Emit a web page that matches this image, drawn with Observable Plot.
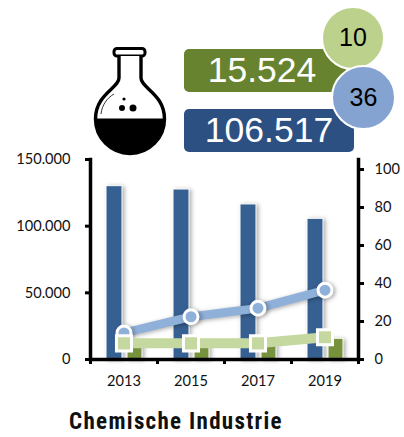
<!DOCTYPE html>
<html><head><meta charset="utf-8">
<script src="https://cdn.jsdelivr.net/npm/d3@7"></script>
<script src="https://cdn.jsdelivr.net/npm/@observablehq/plot@0.6"></script>
<style>
html,body{margin:0;padding:0;background:#fff;width:404px;height:437px;overflow:hidden}
#wrap{position:relative;width:404px;height:437px;font-family:"Liberation Sans",Arial,sans-serif}
#chart{position:absolute;left:0;top:148px}
.box{position:absolute;border-radius:5px;color:#fff;font-size:35.5px;text-align:center;box-sizing:border-box}
#boxG{left:184px;top:49px;width:162px;height:43px;line-height:43px;background:#67832f;padding-right:6px}
#boxB{left:184px;top:109px;width:170px;height:43px;line-height:43px;background:#2d5082}
.circ{position:absolute;border-radius:50%;border:2.5px solid #fff;box-sizing:border-box;color:#000;font-size:25px;text-align:center}
#cG{left:321px;top:6px;width:64px;height:64px;line-height:59px;background:#bcd28c}
#cB{left:331px;top:65px;width:65px;height:65px;line-height:60px;background:#84a3d0}
#flask{position:absolute;left:90px;top:44px}
#title{position:absolute;left:0;top:408px;width:352px;text-align:center;font:bold 23px "Liberation Sans Narrow","Roboto Condensed",Roboto,sans-serif;letter-spacing:1.3px;color:#111}
.shadow{filter:drop-shadow(2px 1px 2px rgba(0,0,0,.32))}
</style></head><body>
<div id="wrap">
  <svg id="flask" width="80" height="114" viewBox="0 0 80 114">
    <rect x="24" y="4.5" width="31" height="7.5" rx="3" fill="#fff" stroke="#000" stroke-width="3"/>
    <path d="M29 12V34C29 44 5.5 50 5.5 75A34.5 34.5 0 0 0 74.5 75C74.5 50 51 44 51 34V12" fill="#fff" stroke="#000" stroke-width="3.4"/>
    <path d="M5 74.5A35 35 0 0 0 75 74.5Z" fill="#000"/>
    <circle cx="32" cy="64" r="3"/><circle cx="43" cy="64" r="3.5"/><circle cx="34" cy="55" r="1.6"/>
    <path d="M11 70C12 61 17 54 24 50" fill="none" stroke="#000" stroke-width=".8"/>
  </svg>
  <div class="box" id="boxG"></div>
  <div class="box" id="boxB"></div>
  <div class="circ" id="cG"></div>
  <div class="circ" id="cB"></div>
  <div id="chart"></div>
  <div id="title"></div>
</div>
<script>
const years = ["2013","2015","2017","2019"];
const blueBars = [130000,127500,116300,105500];
const greenBars = [13000,13000,13000,15524];
const blueLine = [14,22.5,27,36.5];
const greenLine = [8.5,8.5,8.5,11.7];
const leftTicks = [0,50000,100000,150000];
const rightTicks = [0,20,40,60,80,100];
const greenTotal = "15.524", blueTotal = "106.517", greenCount = "10", blueCount = "36";
const titleText = "Chemische Industrie";

document.getElementById("boxG").textContent = greenTotal;
document.getElementById("boxB").textContent = blueTotal;
document.getElementById("cG").textContent = greenCount;
document.getElementById("cB").textContent = blueCount;
document.getElementById("title").textContent = titleText;

const toLeft = v => v * 1425; // right axis unit expressed on the left axis scale
const fmt = v => d3.format(",")(v).replace(/,/g, ".");
const rows = years.map((year,i)=>({year,blue:blueBars[i],green:greenBars[i],bl:toLeft(blueLine[i]),gl:toLeft(greenLine[i])}));

const plot = Plot.plot({
  width:404, height:241, marginTop:11, marginBottom:30, marginLeft:90, marginRight:46,
  style:{fontFamily:"Lato,sans-serif",fontSize:"14.6px",color:"#111",background:"transparent",overflow:"visible"},
  x:{type:"band",domain:years,padding:0},
  y:{domain:[0,150000]},
  marks:[
    Plot.barY(rows,{x:"year",y:"blue",fill:"#376092",stroke:"#fff",strokeWidth:1,insetLeft:16,insetRight:35,className:"shadow"}),
    Plot.barY(rows,{x:"year",y:"green",fill:"#76923c",stroke:"#fff",strokeWidth:1,insetLeft:37,insetRight:15,className:"shadow"}),
    Plot.axisY({ticks:leftTicks,tickFormat:fmt,tickSize:5,tickPadding:15,strokeWidth:3,stroke:"#000",label:null,anchor:"left"}),
    Plot.axisY({ticks:rightTicks.map(toLeft),tickFormat:v=>String(Math.round(v/1425)),tickSize:5,tickPadding:11,strokeWidth:3,stroke:"#000",label:null,anchor:"right"}),
    Plot.axisX({tickSize:0,tickPadding:16,label:null}),
    Plot.ruleX(years,{x:d=>d,dx:-33.5,y1:0,y2:0,insetBottom:-5,stroke:"#000",strokeWidth:3}),
    Plot.ruleX(years.slice(-1),{x:d=>d,dx:33.5,y1:0,y2:0,insetBottom:-5,stroke:"#000",strokeWidth:3}),
    Plot.frame({anchor:"left",stroke:"#000",strokeWidth:3.5}),
    Plot.frame({anchor:"right",stroke:"#000",strokeWidth:3.5}),
    Plot.frame({anchor:"bottom",stroke:"#000",strokeWidth:3.5}),
    Plot.line(rows,{x:"year",y:"bl",stroke:"#8fb0d8",strokeWidth:8.5,className:"shadow"}),
    Plot.dot(rows,{x:"year",y:"bl",r:7,fill:"#8fb0d8",stroke:"#fff",strokeWidth:3,className:"shadow"}),
    Plot.line(rows,{x:"year",y:"gl",stroke:"#c5d8a0",strokeWidth:10}),
    Plot.dot(rows,{x:"year",y:"gl",r:8.5,symbol:"square",fill:"#c5d8a0",stroke:"#fff",strokeWidth:3})
  ]
});
document.getElementById("chart").appendChild(plot);
</script>
</body></html>
